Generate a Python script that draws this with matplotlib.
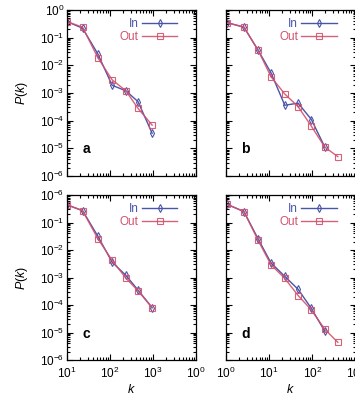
import numpy as np
import matplotlib
matplotlib.use("Agg")
import matplotlib.pyplot as plt
from matplotlib.ticker import LogLocator, FixedLocator, FixedFormatter, NullFormatter

plt.rcParams['font.family'] = ['Liberation Sans', 'DejaVu Sans']
plt.rcParams['mathtext.fontset'] = 'custom'
plt.rcParams['mathtext.rm'] = 'Liberation Sans'
plt.rcParams['mathtext.it'] = 'Liberation Sans:italic'
plt.rcParams['mathtext.bf'] = 'Liberation Sans:bold'

# ---------------- data ----------------
k_ac = [10, 23, 52, 112, 234, 447, 955]
k_bd = [1.05, 2.6, 5.5, 11, 23, 47, 95, 195, 390]

a_in = [0.38, 0.22, 0.026, 1.9e-3, 1.2e-3, 4.9e-4, 3.5e-5]
a_out = [0.38, 0.24, 0.019, 3.0e-3, 1.2e-3, 2.8e-4, 6.9e-5]

b_in = [0.35, 0.24, 0.036, 5.4e-3, 3.6e-4, 4.3e-4, 1.1e-4, 1.1e-5]
b_out = [0.35, 0.24, 0.036, 3.9e-3, 9.2e-4, 3.2e-4, 6.3e-5, 1.1e-5, 5.0e-6]

c_in = [0.44, 0.27, 0.032, 3.6e-3, 1.2e-3, 3.5e-4, 8e-5]
c_out = [0.44, 0.27, 0.026, 4.2e-3, 9.5e-4, 3.3e-4, 8e-5]

d_in = [0.46, 0.25, 0.026, 3.4e-3, 1.1e-3, 3.7e-4, 7.5e-5, 1.1e-5]
d_out = [0.46, 0.25, 0.023, 2.9e-3, 9.3e-4, 2.2e-4, 6.6e-5, 1.3e-5, 4.4e-6]

yticks = [1, 1e-1, 1e-2, 1e-3, 1e-4, 1e-5, 1e-6]
ylabels_top = ['$10^0$', '$10^{-1}$', '$10^{-2}$', '$10^{-3}$', '$10^{-4}$', '$10^{-5}$', '$10^{-6}$']
ylabels_bottom = ['$10^{-6}$', '$10^{-1}$', '$10^{-2}$', '$10^{-3}$', '$10^{-4}$', '$10^{-5}$', '$10^{-6}$']
xlabels_c = ['$10^1$', '$10^2$', '$10^3$', '$10^0$']
xlabels_d = ['$10^0$', '$10^1$', '$10^2$', '$10^3$']

c_in_col = '#4a55a8'
c_out_col = '#d4506c'

W, H = 355, 399
fig = plt.figure(figsize=(W / 100, H / 100), dpi=100)


def box(l, r, t, b):
    return [l / W, (H - b) / H, (r - l) / W, (b - t) / H]


panels = [
    ('a', box(67, 196, 10, 176), k_ac, a_in, k_ac, a_out, (10, 1e4), True, False),
    ('b', box(226, 355.5, 10, 176), k_bd[:8], b_in, k_bd, b_out, (1, 1e3), False, False),
    ('c', box(67, 196, 195, 360), k_ac, c_in, k_ac, c_out, (10, 1e4), True, True),
    ('d', box(226, 355.5, 195, 360), k_bd[:8], d_in, k_bd, d_out, (1, 1e3), False, True),
]

for name, rect, kx_in, y_in, kx_out, y_out, xlim, left, bottom in panels:
    ax = fig.add_axes(rect)
    ax.plot(kx_in, y_in, color=c_in_col, lw=1.0, marker='d', ms=4.2,
            mfc='none', mec=c_in_col, mew=0.8, label='In')
    ax.plot(kx_out, y_out, color=c_out_col, lw=1.0, marker='s', ms=5,
            mfc='none', mec=c_out_col, mew=0.8, label='Out', alpha=0.9)
    ax.set_xscale('log')
    ax.set_yscale('log')
    ax.set_xlim(*xlim)
    ax.set_ylim(1e-6, 1)

    ax.yaxis.set_major_locator(FixedLocator(yticks))
    ax.yaxis.set_minor_locator(LogLocator(base=10, subs=np.arange(2, 10), numticks=20))
    ax.xaxis.set_minor_locator(LogLocator(base=10, subs=np.arange(2, 10), numticks=20))
    decades = [xlim[0] * 10 ** i for i in range(4)]
    ax.xaxis.set_major_locator(FixedLocator(decades))
    ax.yaxis.set_minor_formatter(NullFormatter())
    ax.xaxis.set_minor_formatter(NullFormatter())

    if left:
        ax.yaxis.set_major_formatter(FixedFormatter(ylabels_bottom if bottom else ylabels_top))
        ax.set_ylabel('$P(k)$', fontsize=9, labelpad=7)
    else:
        ax.yaxis.set_major_formatter(NullFormatter())
    if bottom:
        ax.xaxis.set_major_formatter(FixedFormatter(xlabels_c if left else xlabels_d))
        ax.set_xlabel('$k$', fontsize=9, labelpad=1.5)
    else:
        ax.xaxis.set_major_formatter(NullFormatter())

    ax.tick_params(which='both', direction='in', top=True, right=True,
                   labelsize=8.5, width=0.8)
    ax.tick_params(axis='y', pad=2)
    ax.tick_params(axis='x', pad=4)
    ax.tick_params(which='major', length=4)
    ax.tick_params(which='minor', length=2)
    for s in ax.spines.values():
        s.set_linewidth(0.9)

    ax.text(0.15, 0.16, name, transform=ax.transAxes, fontsize=10,
            fontweight='bold', ha='center', va='center')

    leg = ax.legend(loc='upper right', bbox_to_anchor=(0.92, 1.0), frameon=False,
                    markerfirst=False, fontsize=8.5, handlelength=3.0,
                    handletextpad=0.3, labelspacing=0.05, borderpad=0.2)
    leg.get_texts()[0].set_color(c_in_col)
    leg.get_texts()[1].set_color(c_out_col)

fig.savefig('out.png', dpi=100)
